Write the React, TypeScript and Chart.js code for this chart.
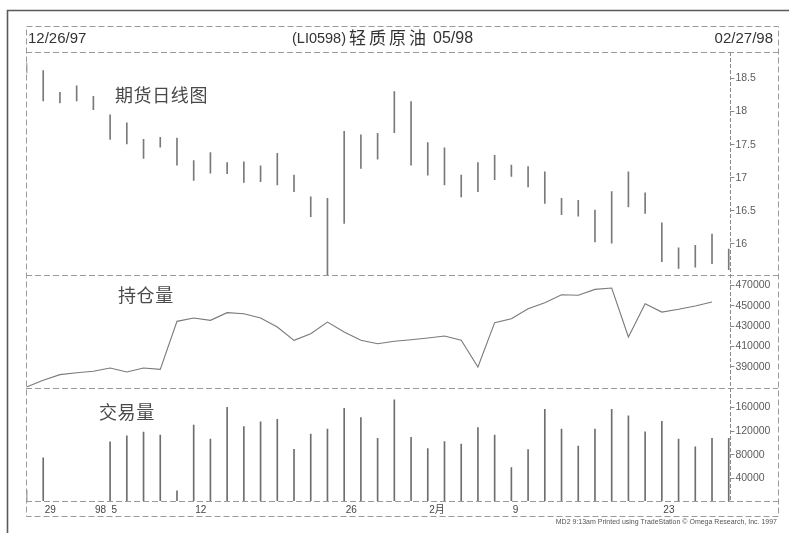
import React, { useEffect, useRef } from "react";
import { Chart, registerables } from "chart.js";

Chart.register(...registerables);

const W = 789;
const H = 533;

// x-axis date labels (trading-day index -> label)
const xTickIdx = [1, 4, 5, 10, 19, 24, 29, 38];
const xTickText = ["29", "98", "5", "12", "26", "2月", "9", "23"];

// right-axis tick values
const priceTicks = [16, 16.5, 17, 17.5, 18, 18.5];
const oiTicks = [390000, 410000, 430000, 450000, 470000];
const volTicks = [40000, 80000, 120000, 160000];

// daily high / low (USD / bbl), 12/26/97 .. 02/27/98
const priceHigh = [
  18.73, 18.62, 18.29, 18.39, 18.23, 17.95, 17.83, 17.58, 17.61, 17.6, 17.26,
  17.38, 17.23, 17.24, 17.18, 17.37, 17.04, 16.71, 16.69, 17.7, 17.65, 17.67,
  18.3, 18.15, 17.53, 17.45, 17.04, 17.23, 17.34, 17.19, 17.17, 17.09, 16.69,
  16.66, 16.51, 16.79, 17.09, 16.77, 16.32, 15.94, 15.98, 16.15, 15.92,
];
const priceLow = [
  18.58, 18.16, 18.13, 18.16, 18.03, 17.58, 17.51, 17.29, 17.46, 17.19, 16.96,
  17.07, 17.06, 16.93, 16.94, 16.89, 16.79, 16.41, 15.53, 16.31, 17.14, 17.28,
  17.68, 17.19, 17.04, 16.89, 16.71, 16.79, 16.97, 17.02, 16.86, 16.61, 16.44,
  16.42, 16.03, 16.01, 16.56, 16.46, 15.73, 15.63, 15.65, 15.7, 15.61,
];

// open interest (持仓量)
const openInterest = [
  370400, 377000, 382500, 384400, 385800, 389000, 385100, 389000, 387700,
  434700, 438000, 435700, 443200, 442200, 438000, 429200, 416100, 422600,
  434000, 424300, 416100, 412800, 415200, 416700, 418400, 420300, 416100,
  390000, 433400, 437300, 447100, 453000, 460800, 460200, 466000, 467300,
  419400, 452000, 443800, 446500, 449700, 453600,
];

// volume (交易量)
const volume = [
  20000, 75000, null, null, null, 102000, 112000, 118500, 113500, 19000,
  130500, 106500, 160500, 128000, 136000, 140000, 89500, 115000, 123500,
  158500, 143000, 108000, 173000, 109500, 90500, 102500, 98000, 126000,
  113500, 58500, 89000, 157000, 123500, 95000, 123500, 157000, 146000,
  119000, 136500, 106500, 93500, 108000, 108000,
];

const SANS = "'Liberation Sans', Arial, sans-serif";
const CJK = "'Noto Sans CJK SC', sans-serif";

const framePlugin = {
  id: "frame",
  beforeDraw(chart: any) {
    const ctx = chart.ctx;
    ctx.save();
    ctx.fillStyle = "#ffffff";
    ctx.fillRect(0, 0, W, H);
    ctx.restore();
  },
  afterDraw(chart: any) {
    const ctx = chart.ctx;
    const area = chart.chartArea;
    const L = 26;
    const R = 778;
    const boxTop = 26;
    const boxBottom = 516;
    const sep1 = chart.scales.yOI.top;
    const sep2 = chart.scales.yVol.top;

    ctx.save();
    // outer page border
    ctx.strokeStyle = "#5a5a5a";
    ctx.lineWidth = 1.6;
    ctx.beginPath();
    ctx.moveTo(7.5, H);
    ctx.lineTo(7.5, 10.5);
    ctx.lineTo(W, 10.5);
    ctx.stroke();

    // inner dashed frame
    ctx.strokeStyle = "#9a9a9a";
    ctx.lineWidth = 1;
    ctx.setLineDash([6, 3]);
    ctx.strokeRect(L + 0.5, boxTop + 0.5, R - L, boxBottom - boxTop);
    const hline = (y: number) => {
      ctx.beginPath();
      ctx.moveTo(L, Math.round(y) + 0.5);
      ctx.lineTo(R, Math.round(y) + 0.5);
      ctx.stroke();
    };
    hline(area.top - 0.5);
    hline(sep1);
    hline(sep2);
    hline(area.bottom);
    ctx.setLineDash([4, 2]);
    ctx.strokeStyle = "#8a8a8a";
    ctx.beginPath();
    ctx.moveTo(Math.round(area.right) + 0.5, area.top);
    ctx.lineTo(Math.round(area.right) + 0.5, area.bottom);
    ctx.stroke();
    ctx.setLineDash([]);

    // header texts
    ctx.fillStyle = "#333333";
    ctx.textBaseline = "middle";
    ctx.textAlign = "left";
    ctx.font = `15px ${SANS}`;
    ctx.fillText("12/26/97", 28, 38.5);
    ctx.textAlign = "right";
    ctx.fillText("02/27/98", 773, 39);
    ctx.textAlign = "left";
    ctx.font = `14.5px ${SANS}`;
    ctx.fillText("(LI0598)", 292, 38.5);
    ctx.font = `17px ${CJK}`;
    (ctx as any).letterSpacing = "3px";
    ctx.fillText("轻质原油", 349, 38);
    (ctx as any).letterSpacing = "0px";
    ctx.font = `16px ${SANS}`;
    ctx.fillText("05/98", 433, 38.5);

    // panel captions
    ctx.fillStyle = "#4a4a4a";
    ctx.font = `18px ${CJK}`;
    (ctx as any).letterSpacing = "0.6px";
    ctx.fillText("期货日线图", 115, 95);
    ctx.fillText("持仓量", 118, 295);
    ctx.fillText("交易量", 99, 412);
    (ctx as any).letterSpacing = "0px";

    // footnote
    ctx.fillStyle = "#555555";
    ctx.font = `7px ${SANS}`;
    ctx.textAlign = "right";
    ctx.fillText(
      "MD2 9:13am Printed using TradeStation © Omega Research, Inc. 1997",
      777,
      522
    );
    ctx.restore();
  },
};

const yTickStyle = {
  color: "#5c5c5c",
  font: { family: SANS, size: 10.5 },
  padding: 1,
  autoSkip: false,
};
const yGrid = {
  display: true,
  drawOnChartArea: false,
  drawTicks: true,
  tickLength: 4,
  color: "#8a8a8a",
};

export default function App() {
  const ref = useRef<HTMLCanvasElement | null>(null);

  useEffect(() => {
    const canvas = ref.current;
    if (!canvas) return;

    const priceData = priceHigh.map((h, i) => ({ x: i, y: [priceLow[i], h] }));
    const oiData = openInterest.map((v, i) => ({ x: i, y: v }));
    const volData = volume.map((v, i) => ({ x: i, y: v }));

    const chart = new Chart(canvas, {
      type: "bar",
      data: {
        datasets: [
          {
            type: "bar",
            data: priceData as any,
            xAxisID: "x",
            yAxisID: "yPrice",
            barThickness: 1,
            grouped: false,
            backgroundColor: "#7a7a7a",
            borderWidth: 0,
          } as any,
          {
            type: "line",
            data: oiData as any,
            xAxisID: "x",
            yAxisID: "yOI",
            borderColor: "#7a7a7a",
            borderWidth: 1.1,
            pointRadius: 0,
            tension: 0,
            fill: false,
          } as any,
          {
            type: "bar",
            data: volData as any,
            xAxisID: "x",
            yAxisID: "yVol",
            barThickness: 1,
            grouped: false,
            backgroundColor: "#6e6e6e",
            borderWidth: 0,
          } as any,
        ],
      },
      options: {
        responsive: false,
        maintainAspectRatio: false,
        animation: false,
        events: [],
        layout: { padding: { left: 26.5, top: 52, right: 0, bottom: 0 } },
        plugins: {
          legend: { display: false },
          tooltip: { enabled: false },
          title: { display: false },
        },
        scales: {
          x: {
            type: "linear",
            position: "bottom",
            min: 0,
            max: 42.1,
            offset: false,
            grid: { display: false, drawTicks: false },
            border: { display: false },
            afterBuildTicks: (s: any) => {
              s.ticks = xTickIdx.map((v) => ({ value: v }));
            },
            afterFit: (s: any) => {
              s.height = 32;
            },
            ticks: {
              autoSkip: false,
              maxRotation: 0,
              minRotation: 0,
              align: "start",
              padding: 3,
              labelOffset: 1.5,
              color: "#444444",
              font: { family: `${SANS}, ${CJK}`, size: 10 },
              callback: (_v: any, i: number) => xTickText[i] ?? "",
            },
          },
          yPrice: {
            type: "linear",
            position: "right",
            stack: "panels",
            stackWeight: 223,
            min: 15.53,
            max: 18.9,
            beginAtZero: false,
            offset: false,
            grid: yGrid,
            border: { display: false },
            afterBuildTicks: (s: any) => {
              s.ticks = priceTicks.map((v) => ({ value: v }));
            },
            afterFit: (s: any) => {
              s.width = 58.6;
            },
            ticks: { ...yTickStyle, callback: (v: any) => String(v) },
          },
          yOI: {
            type: "linear",
            position: "right",
            stack: "panels",
            stackWeight: 113,
            min: 369400,
            max: 480100,
            beginAtZero: false,
            offset: false,
            grid: yGrid,
            border: { display: false },
            afterBuildTicks: (s: any) => {
              s.ticks = oiTicks.map((v) => ({ value: v }));
            },
            afterFit: (s: any) => {
              s.width = 58.6;
            },
            ticks: { ...yTickStyle, callback: (v: any) => String(v) },
          },
          yVol: {
            type: "linear",
            position: "right",
            stack: "panels",
            stackWeight: 113,
            min: 2000,
            max: 193000,
            beginAtZero: false,
            offset: false,
            grid: yGrid,
            border: { display: false },
            afterBuildTicks: (s: any) => {
              s.ticks = volTicks.map((v) => ({ value: v }));
            },
            afterFit: (s: any) => {
              s.width = 58.6;
            },
            ticks: { ...yTickStyle, callback: (v: any) => String(v) },
          },
        },
      } as any,
      plugins: [framePlugin],
    });

    return () => {
      chart.destroy();
    };
  }, []);

  return (
    <div
      style={{
        position: "absolute",
        left: 0,
        top: 0,
        width: W,
        height: H,
        background: "#ffffff",
      }}
    >
      <canvas
        ref={ref}
        width={W}
        height={H}
        style={{ width: W, height: H, display: "block" }}
      />
    </div>
  );
}
